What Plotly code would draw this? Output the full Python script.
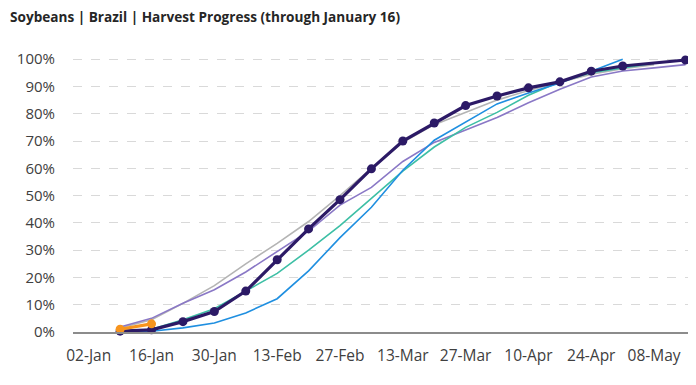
import plotly.graph_objects as go

dates = ["2026-01-09", "2026-01-16", "2026-01-23", "2026-01-30", "2026-02-06", "2026-02-13",
         "2026-02-20", "2026-02-27", "2026-03-06", "2026-03-13", "2026-03-20", "2026-03-27",
         "2026-04-03", "2026-04-10", "2026-04-17", "2026-04-24", "2026-05-01", "2026-05-08",
         "2026-05-15"]

s_2526 = [1, 3] + [None] * 17
s_2425 = [0.3, 0.8, 3.8, 7.5, 15, 26.5, 37.8, 48.5, 59.8, 70, 76.6, 83, 86.5, 89.5, 91.7, 95.6, 97.5, None, 99.7]
s_2324 = [1.5, 4.5, 10.5, 17, 25, 32.5, 40.5, 50, 60, 69.5, 76, 80.5, 85, 88.5, 91.5, 94.5, 96.5, 98, None]
s_2223 = [1.8, 5, 10.5, 15.5, 22, 29.5, 37, 46.5, 53, 62.5, 69.5, 74, 78.6, 84, 89, 93.5, 95.7, 96.8, 98]
s_2122 = [0.3, 1, 4.5, 8.5, 15, 21.5, 30, 39, 49, 59, 67.8, 75, 80.5, 86.8, 91.7, 95, 96.8, 98.5, None]
s_avg = [0, 0.3, 1.5, 3.3, 7, 12.2, 22.4, 34.6, 45.7, 59.3, 70.3, 77, 83.6, 87.6, 91.3, 95.6, 100, None, None]

tick_vals = ["2026-01-02", "2026-01-16", "2026-01-30", "2026-02-13", "2026-02-27",
             "2026-03-13", "2026-03-27", "2026-04-10", "2026-04-24", "2026-05-08"]
tick_text = ["02-Jan", "16-Jan", "30-Jan", "13-Feb", "27-Feb", "13-Mar", "27-Mar",
             "10-Apr", "24-Apr", "08-May"]
y_ticks = [0, 10, 20, 30, 40, 50, 60, 70, 80, 90, 100]

fig = go.Figure()

thin = [
    ("2023/24", s_2324, "#b4b4b4"),
    ("2022/23", s_2223, "#8a78c6"),
    ("2021/22", s_2122, "#3dbfa5"),
    ("5-Yr Avg", s_avg, "#1f8fe0"),
]
for name, vals, col in thin:
    fig.add_trace(go.Scatter(x=dates, y=vals, name=name, mode="lines",
                             line=dict(color=col, width=1.6), connectgaps=True,
                             cliponaxis=False))

fig.add_trace(go.Scatter(x=dates, y=s_2425, name="2024/25", mode="lines+markers",
                         line=dict(color="#2c1a66", width=3.2),
                         marker=dict(color="#2c1a66", size=9), connectgaps=True,
                         cliponaxis=False))
fig.add_trace(go.Scatter(x=dates, y=s_2526, name="2025/26", mode="lines+markers",
                         line=dict(color="#f7941d", width=3.2),
                         marker=dict(color="#f7941d", size=9), cliponaxis=False))

fig.update_layout(
    width=696, height=385,
    margin=dict(l=65, r=8, t=43, b=61),
    paper_bgcolor="white", plot_bgcolor="white",
    showlegend=False,
    font=dict(family="Open Sans", color="#404040", size=15),
)
fig.add_annotation(text="<b>Soybeans | Brazil | Harvest Progress (through January 16)</b>",
                   xref="paper", yref="paper", x=-0.104, y=1.124,
                   xanchor="left", yanchor="middle", showarrow=False,
                   font=dict(size=13.6, color="#262626", family="Open Sans"))
fig.update_xaxes(type="date", range=["2025-12-29 12:00", "2026-05-17 08:00"],
                 tickvals=tick_vals, ticktext=tick_text, showgrid=False,
                 showline=True, linecolor="#8c8c8c", linewidth=1.5,
                 ticks="outside", ticklen=9, tickcolor="rgba(0,0,0,0)",
                 tickfont=dict(size=15.5, color="#404040"))
fig.update_yaxes(range=[0, 103], tickvals=y_ticks,
                 ticktext=[f"{v}%" for v in y_ticks],
                 showgrid=True, gridcolor="#d9d9d9", griddash="dash", gridwidth=1,
                 zeroline=False, ticks="outside", ticklen=14, tickcolor="rgba(0,0,0,0)",
                 tickfont=dict(size=15, color="#404040"))

fig.write_html("out.html")
